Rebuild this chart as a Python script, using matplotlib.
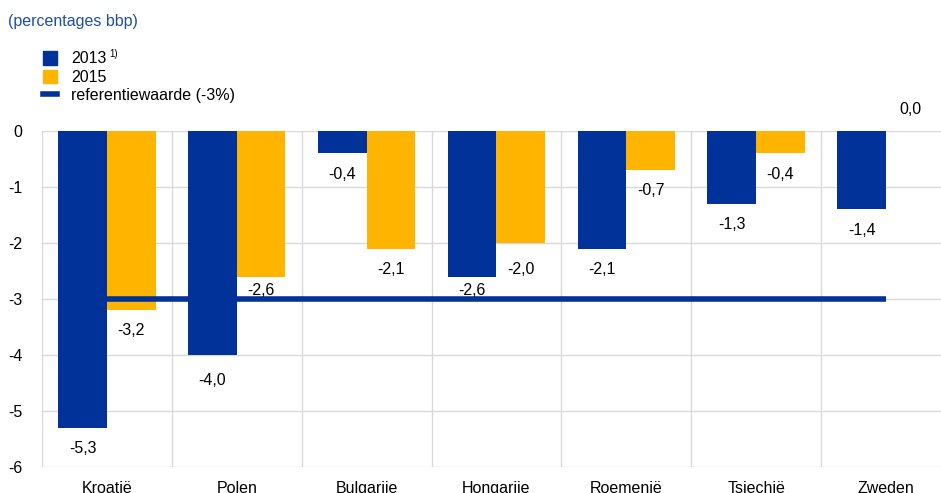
import numpy as np
import matplotlib.pyplot as plt
from matplotlib.patches import Patch
from matplotlib.lines import Line2D

plt.rcParams['font.family'] = ['Liberation Sans', 'DejaVu Sans']

countries = ["Kroatië", "Polen", "Bulgarije", "Hongarije", "Roemenië", "Tsjechië", "Zweden"]
vals_2013 = [-5.3, -4.0, -0.4, -2.6, -2.1, -1.3, -1.4]
vals_2015 = [-3.2, -2.6, -2.1, -2.0, -0.7, -0.4, 0.0]
ref_value = -3.0

blue = "#003299"
yellow = "#FFB400"
fs = 11.5

fig = plt.figure(figsize=(9.41, 4.93), dpi=100)
ax = fig.add_axes([0.0446, 0.0527, 0.966, 0.6815])

x = np.arange(len(countries))
w = 0.375
ax.bar(x - w / 2, vals_2013, w, color=blue, zorder=3)
ax.bar(x + w / 2, vals_2015, w, color=yellow, zorder=3)
ax.plot([x[0], x[-1]], [ref_value, ref_value], color=blue, lw=4, zorder=4, solid_capstyle='butt')


def label_pos(v):
    # labels sit under the bar end, nudged off the reference line
    if v == -2.6:
        return v - 0.25
    if v == -2.0:
        return v - 0.47
    if v == -4.0:
        return v - 0.45
    return v - 0.37


for i in range(len(x)):
    v = vals_2013[i]
    ax.text(x[i] - w / 2, label_pos(v), f"{v:.1f}".replace(".", ","), ha='center', va='center', fontsize=fs, zorder=5)
    v = vals_2015[i]
    txt = f"{v:.1f}".replace(".", ",")
    if v == 0:
        ax.text(x[i] + w / 2, 0.38, txt, ha='center', va='center', fontsize=fs, clip_on=False)
    else:
        ax.text(x[i] + w / 2, label_pos(v), txt, ha='center', va='center', fontsize=fs, zorder=5)

ax.set_xlim(-0.5, len(countries) - 0.5)
ax.set_ylim(-6, 0)
ax.set_yticks(np.arange(-6, 1, 1))
ax.set_yticklabels([str(t) for t in range(-6, 1)])
ax.set_xticks(x)
ax.set_xticklabels(countries)
ax.set_xticks(np.arange(-0.5, len(countries), 1), minor=True)
ax.tick_params(axis='both', which='both', length=0, labelsize=fs)
ax.tick_params(axis='y', pad=14)
ax.tick_params(axis='x', pad=10)
ax.grid(axis='y', color='#d9d9d9', lw=1, zorder=0)
ax.grid(axis='x', which='minor', color='#d9d9d9', lw=1, zorder=0)
for s in ax.spines.values():
    s.set_visible(False)

fig.text(0.009, 0.957, "(percentages bbp)", color="#1F4E9C", fontsize=fs, va='center')

handles = [Patch(color=blue), Patch(color=yellow), Line2D([0], [0], color=blue, lw=4)]
labels = ["2013", "2015", "referentiewaarde (-3%)"]
fig.legend(handles, labels, loc='upper left', bbox_to_anchor=(0.03, 0.925), frameon=False,
           fontsize=fs, handlelength=0.9, handleheight=0.9, handletextpad=0.9, labelspacing=0.2)
fig.text(0.116, 0.89, "1)", fontsize=7, va='center')

fig.savefig("out.png", dpi=100)
